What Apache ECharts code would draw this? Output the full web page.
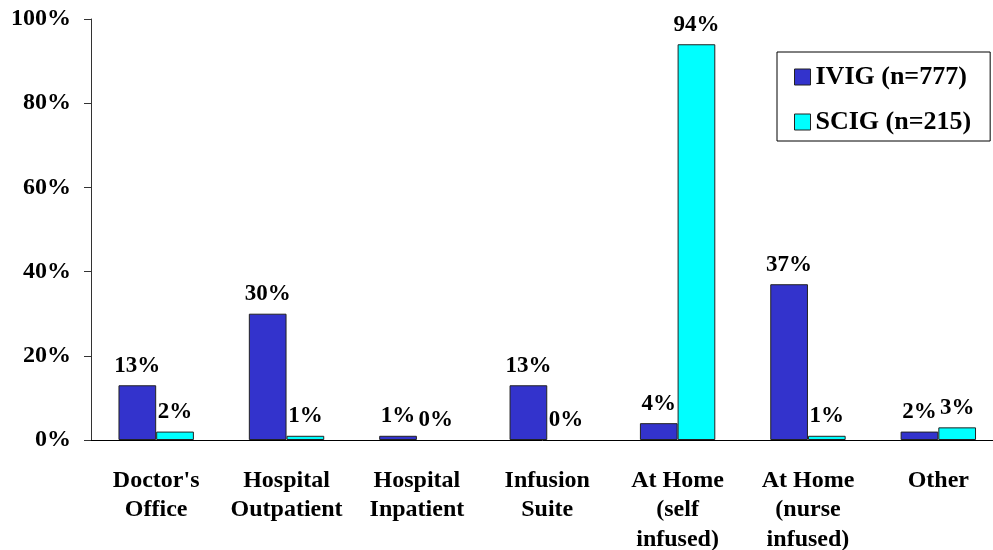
<!DOCTYPE html>
<html>
<head>
<meta charset="utf-8">
<script src="https://cdn.jsdelivr.net/npm/echarts@6/dist/echarts.min.js"></script>
<style>
  html, body { margin: 0; padding: 0; background: #fff; }
  #chart { width: 993px; height: 550px; }
</style>
</head>
<body>
<div id="chart"></div>
<script>
// Site of care for immunoglobulin infusions, percent of patients
const categories = [
  "Doctor's\nOffice",
  "Hospital\nOutpatient",
  "Hospital\nInpatient",
  "Infusion\nSuite",
  "At Home\n(self\ninfused)",
  "At Home\n(nurse\ninfused)",
  "Other"
];
const ivigName = 'IVIG (n=777)';
const scigName = 'SCIG (n=215)';
const ivigValues = [13, 30, 1, 13, 4, 37, 2];
const scigValues = [2, 1, 0, 0, 94, 1, 3];
const yTicks = { min: 0, max: 100, interval: 20 };

const FONT = '"Liberation Serif", "Times New Roman", serif';
const IVIG_COLOR = '#3333CC';
const SCIG_COLOR = '#00FFFF';
const EDGE = '#222';

const chart = echarts.init(document.getElementById('chart'), null, { renderer: 'canvas' });

const valueLabel = {
  show: true,
  position: 'top',
  distance: 8,
  formatter: p => p.value + '%',
  fontFamily: FONT,
  fontWeight: 'bold',
  fontSize: 23,
  color: '#000'
};

// zero-height bars get no outline so nothing is drawn on the axis
const asBarData = values => values.map(v =>
  v === 0 ? { value: v, itemStyle: { borderWidth: 0 } } : v
);

chart.setOption({
  backgroundColor: '#fff',
  animation: false,
  // the plot runs slightly past the right edge of the canvas
  grid: {
    left: 91, top: 19, width: 912.5, height: 421,
    containLabel: false,
    outerBoundsMode: 'none'
  },
  legend: {
    orient: 'vertical',
    left: 777,
    top: 52,
    padding: [12, 19, 6, 17],
    itemWidth: 16,
    itemHeight: 16,
    itemGap: 19,
    borderColor: '#000',
    borderWidth: 1,
    icon: 'rect',
    textStyle: { fontFamily: FONT, fontWeight: 'bold', fontSize: 26, color: '#000', lineHeight: 26 },
    data: [
      { name: ivigName, itemStyle: { color: IVIG_COLOR, borderColor: EDGE, borderWidth: 1 } },
      { name: scigName, itemStyle: { color: SCIG_COLOR, borderColor: EDGE, borderWidth: 1 } }
    ]
  },
  xAxis: {
    type: 'category',
    data: categories,
    axisLine: { show: true, lineStyle: { color: '#000', width: 1 } },
    axisTick: { show: false },
    axisLabel: {
      interval: 0,
      margin: 26,
      fontFamily: FONT,
      fontWeight: 'bold',
      fontSize: 24,
      lineHeight: 29.5,
      color: '#000',
      align: 'center'
    },
    splitLine: { show: false }
  },
  yAxis: {
    type: 'value',
    min: yTicks.min,
    max: yTicks.max,
    interval: yTicks.interval,
    axisLine: { show: true, lineStyle: { color: '#333', width: 1 } },
    axisTick: { show: true, inside: false, length: 7, lineStyle: { color: '#333' } },
    axisLabel: {
      margin: 20,
      formatter: '{value}%',
      fontFamily: FONT,
      fontWeight: 'bold',
      fontSize: 24,
      color: '#000'
    },
    splitLine: { show: false }
  },
  series: [
    {
      name: ivigName,
      type: 'bar',
      data: asBarData(ivigValues),
      barWidth: 37.7,
      barGap: '0%',
      itemStyle: { color: IVIG_COLOR, borderColor: EDGE, borderWidth: 1 },
      label: valueLabel
    },
    {
      name: scigName,
      type: 'bar',
      data: asBarData(scigValues),
      barWidth: 37.7,
      barGap: '0%',
      itemStyle: { color: SCIG_COLOR, borderColor: EDGE, borderWidth: 1 },
      label: valueLabel
    }
  ]
});
</script>
</body>
</html>
